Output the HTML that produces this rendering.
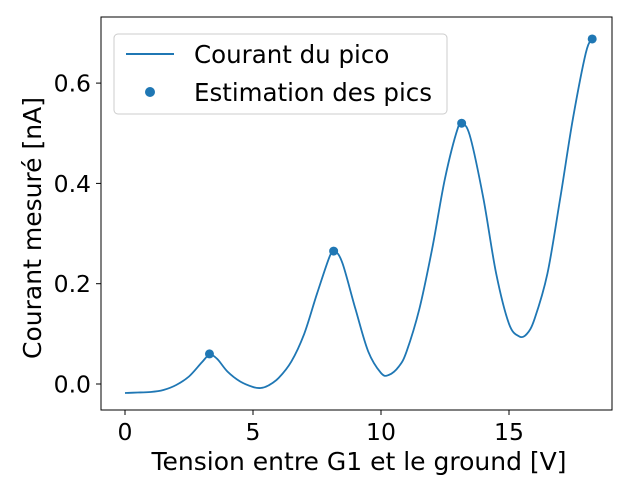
<!DOCTYPE html>
<html><head><meta charset="utf-8"><style>
body{margin:0;background:#fff}
svg{font-family:"DejaVu Sans","Liberation Sans",sans-serif}
</style></head><body>
<svg id="chart" width="640" height="480">
<rect x="101" y="17" width="511" height="393" fill="none" stroke="#000" stroke-width="1"/>
<g id="ticks"></g>
<path id="line" fill="none" stroke="#1f77b4" stroke-width="1.8"/>
<g id="peaks"></g>
<text x="359" y="470" font-size="25" text-anchor="middle">Tension entre G1 et le ground [V]</text>
<text transform="translate(41,228) rotate(-90)" font-size="25" text-anchor="middle">Courant mesuré [nA]</text>
<g>
<rect x="114" y="34" width="333" height="80" rx="4" fill="#fff" fill-opacity="0.8" stroke="#ccc"/>
<line x1="126" y1="54" x2="174" y2="54" stroke="#1f77b4" stroke-width="2"/>
<text x="194" y="63" font-size="24.5">Courant du pico</text>
<circle cx="150" cy="92" r="5" fill="#1f77b4"/>
<text x="194" y="101" font-size="24.5">Estimation des pics</text>
</g>
</svg>
<script>
const xs=[0,0.5,1,1.5,2,2.5,3,3.3,3.6,4,4.5,5,5.3,5.6,6,6.5,7,7.5,8,8.2,8.5,9,9.5,10,10.3,10.7,11,11.5,12,12.5,13,13.2,13.5,14,14.5,15,15.4,15.7,16,16.5,17,17.5,18,18.25];
const ys=[-0.018,-0.017,-0.016,-0.012,-0.002,0.015,0.043,0.058,0.05,0.025,0.005,-0.006,-0.008,-0.003,0.012,0.045,0.1,0.18,0.255,0.265,0.24,0.15,0.065,0.022,0.018,0.035,0.065,0.15,0.27,0.41,0.51,0.52,0.49,0.37,0.22,0.12,0.095,0.1,0.13,0.22,0.37,0.53,0.66,0.69];
const peakX=[3.3,8.15,13.15,18.25];
const peakY=[0.06,0.265,0.52,0.688];
const xTicks=[0,5,10,15];
const yTicks=[0,0.2,0.4,0.6];
const sx=v=>125+v*25.6, sy=v=>384-v*501.5;
const ns="http://www.w3.org/2000/svg";
const P=xs.map((x,i)=>[sx(x),sy(ys[i])]);
let d="M"+P[0][0].toFixed(1)+","+P[0][1].toFixed(1);
for(let i=0;i<P.length-1;i++){const p0=P[Math.max(0,i-1)],p1=P[i],p2=P[i+1],p3=P[Math.min(P.length-1,i+2)];
const c1=[p1[0]+(p2[0]-p0[0])/6,p1[1]+(p2[1]-p0[1])/6],c2=[p2[0]-(p3[0]-p1[0])/6,p2[1]-(p3[1]-p1[1])/6];
d+="C"+c1.map(v=>v.toFixed(1)).join(",")+" "+c2.map(v=>v.toFixed(1)).join(",")+" "+p2.map(v=>v.toFixed(1)).join(",");}
document.getElementById("line").setAttribute("d",d);
const pk=document.getElementById("peaks");
peakX.forEach((x,i)=>{const c=document.createElementNS(ns,"circle");
c.setAttribute("cx",sx(x));c.setAttribute("cy",sy(peakY[i]));c.setAttribute("r",4.5);c.setAttribute("fill","#1f77b4");


pk.appendChild(c);});
const tg=document.getElementById("ticks");
xTicks.forEach(v=>{const l=document.createElementNS(ns,"line");l.setAttribute("x1",sx(v));l.setAttribute("x2",sx(v));l.setAttribute("y1",410);l.setAttribute("y2",415);l.setAttribute("stroke","#000");


tg.appendChild(l);
const t=document.createElementNS(ns,"text");t.setAttribute("x",sx(v));t.setAttribute("y",440);t.setAttribute("font-size","23.5");t.setAttribute("text-anchor","middle");t.textContent=v;


tg.appendChild(t);});
yTicks.forEach(v=>{const l=document.createElementNS(ns,"line");l.setAttribute("x1",96);l.setAttribute("x2",101);l.setAttribute("y1",sy(v));l.setAttribute("y2",sy(v));l.setAttribute("stroke","#000");


tg.appendChild(l);
const t=document.createElementNS(ns,"text");t.setAttribute("x",91);t.setAttribute("y",sy(v)+8.5);t.setAttribute("font-size","23.5");t.setAttribute("text-anchor","end");t.textContent=v.toFixed(1);


tg.appendChild(t);});
</script>
</body></html>
